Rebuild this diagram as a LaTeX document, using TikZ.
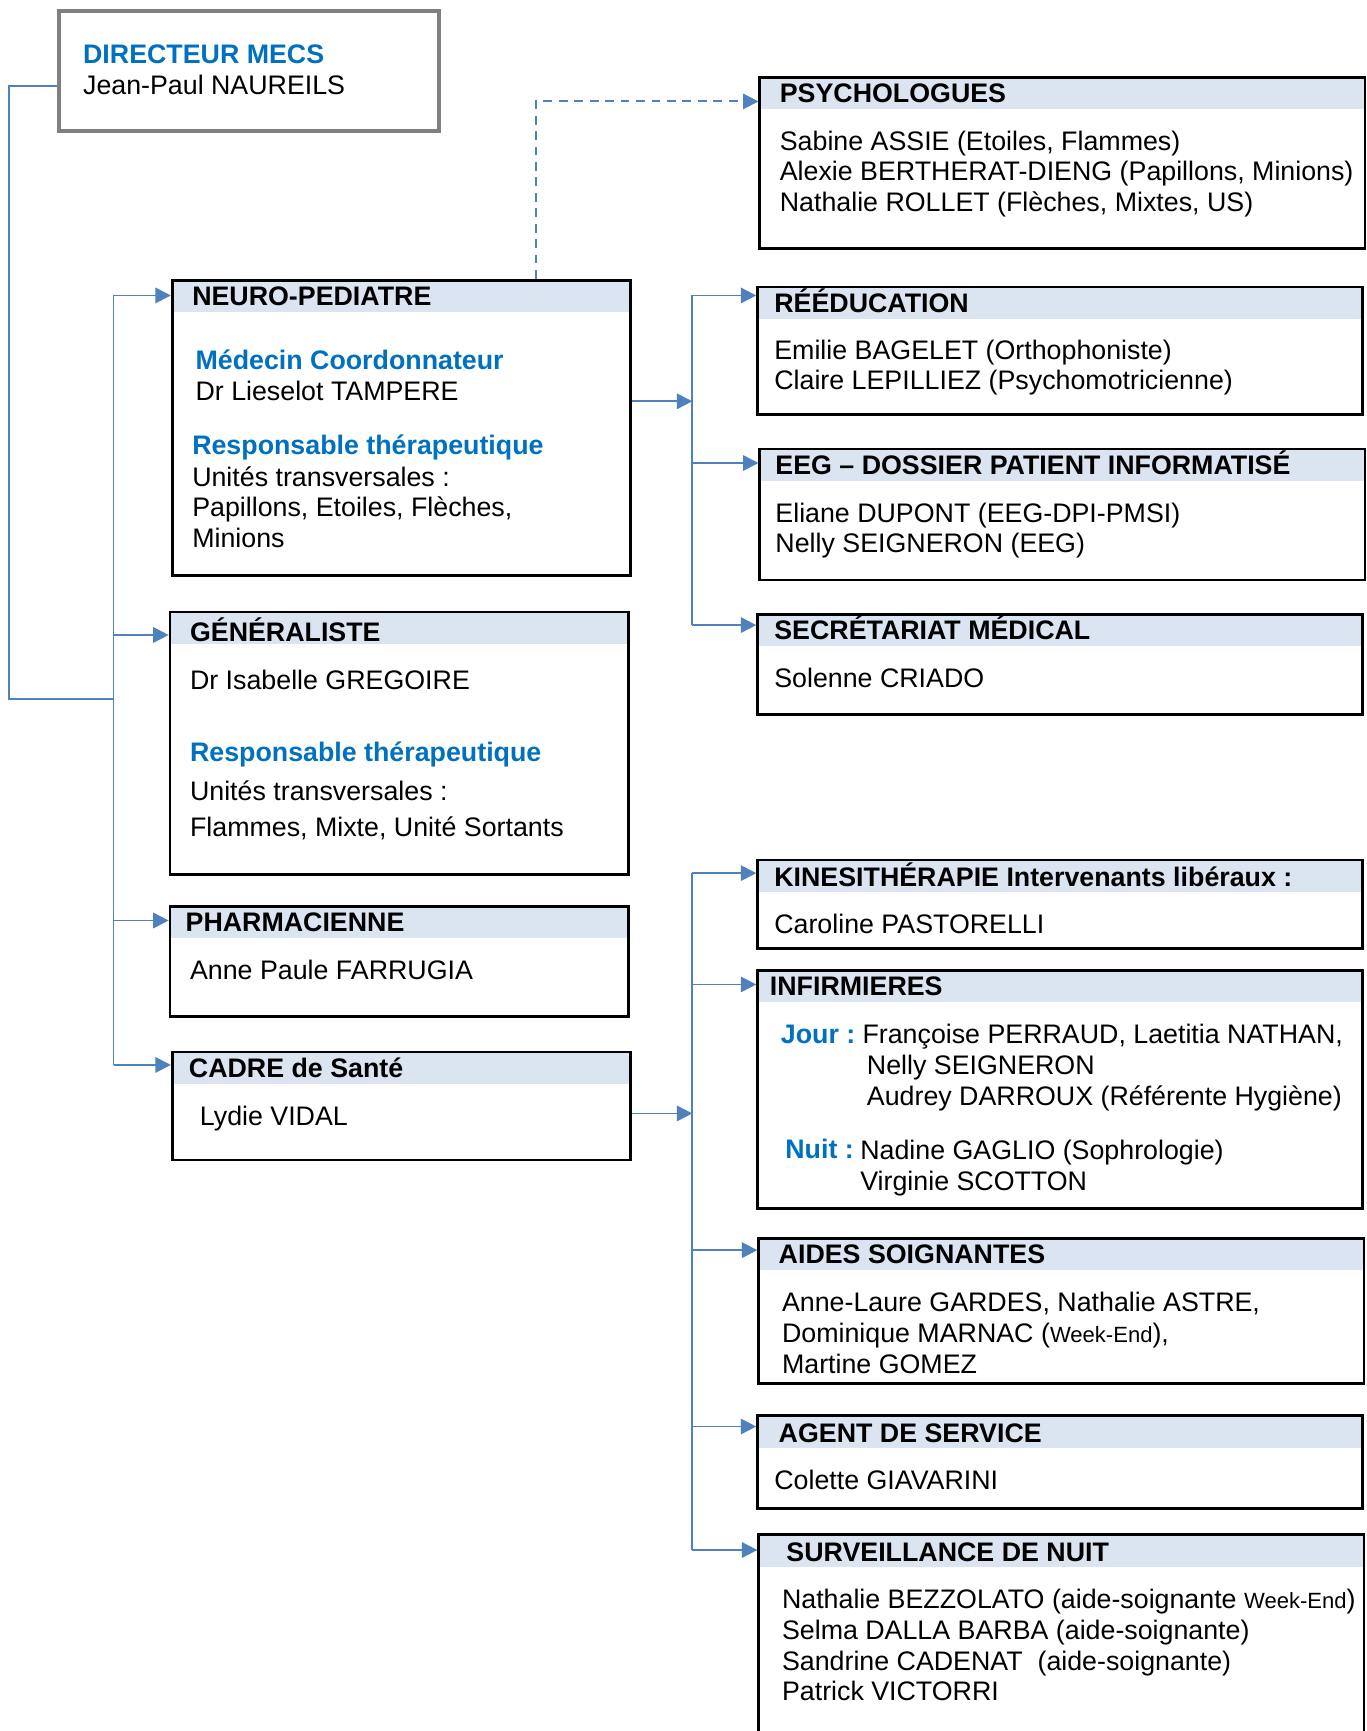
\documentclass[tikz,border=0pt]{standalone}
\usepackage{fontspec}
\setmainfont{Liberation Sans}
\usetikzlibrary{arrows.meta}
\definecolor{hdr}{HTML}{DBE5F1}
\definecolor{conn}{HTML}{4F81BD}
\definecolor{ttlblue}{HTML}{0070C0}
\definecolor{dirg}{HTML}{808080}
\tikzset{
 box/.style={draw=black, line width=1.2pt, anchor=north west, inner sep=0pt,
   path picture={\fill[hdr] ([yshift=-0.6pt]path picture bounding box.north west) rectangle ([yshift=-14.5pt]path picture bounding box.north east);}},
 dirbox/.style={draw=dirg, line width=1.8pt, anchor=north west, inner sep=0pt},
 txt/.style={anchor=base west, inner sep=0pt, yshift=-0.75pt, font=\fontsize{12.15}{14}\selectfont},
 ttl/.style={anchor=base west, inner sep=0pt, yshift=-0.6pt, font=\fontsize{12.15}{14}\selectfont\bfseries},
 bluettl/.style={ttl, text=ttlblue},
 link/.style={draw=conn, line width=0.85pt},
 arr/.style={link, -{Triangle[length=7pt,width=7pt]}},
}
\newcommand{\wk}{{\fontsize{10}{12}\selectfont Week-End}}
\begin{document}
\begin{tikzpicture}[x=0.5pt,y=-0.5pt]
\useasboundingbox (0,0) rectangle (1240,1570.2);

% boxes
\node[dirbox, minimum width=172pt, minimum height=54.5pt] (dir) at (52,8) {};
\node[box, minimum width=274.5pt, minimum height=77.5pt] (psy) at (688,69) {};
\node[box, minimum width=208pt, minimum height=134pt] (neuro) at (155,253) {};
\node[box, minimum width=274.5pt, minimum height=58pt] (reed) at (686,259) {};
\node[box, minimum width=274.5pt, minimum height=59.5pt] (eeg) at (688,406) {};
\node[box, minimum width=274.5pt, minimum height=45.5pt] (sec) at (686,556) {};
\node[box, minimum width=208pt, minimum height=119pt] (gen) at (153,554) {};
\node[box, minimum width=208pt, minimum height=50pt] (pharm) at (153,821) {};
\node[box, minimum width=208pt, minimum height=49pt] (cadre) at (155,953) {};
\node[box, minimum width=274.5pt, minimum height=40pt] (kine) at (686,779) {};
\node[box, minimum width=274.5pt, minimum height=108pt] (inf) at (686,879) {};
\node[box, minimum width=274.5pt, minimum height=66pt] (aides) at (687,1122) {};
\node[box, minimum width=274.5pt, minimum height=42pt] (agent) at (686,1283) {};
\node[box, minimum width=274.5pt, minimum height=100pt] (surv) at (687,1391) {};

% texts
\node[bluettl] (dirT) at (75,56) {DIRECTEUR MECS};
\node[txt] (dirN) at (75,84) {Jean-Paul NAUREILS};

\node[ttl] (psyT) at (707,92) {PSYCHOLOGUES};
\node[txt] (psy1) at (707,135) {Sabine ASSIE (Etoiles, Flammes)};
\node[txt] (psy2) at (707,162) {Alexie BERTHERAT-DIENG (Papillons, Minions)};
\node[txt] (psy3) at (707,190) {Nathalie ROLLET (Flèches, Mixtes, US)};

\node[ttl] (neuroT) at (174,276) {NEURO-PEDIATRE};
\node[bluettl] (neuro1) at (177,334) {Médecin Coordonnateur};
\node[txt] (neuro2) at (177,362) {Dr Lieselot TAMPERE};
\node[bluettl] (neuro3) at (174,411) {Responsable thérapeutique};
\node[txt] (neuro4) at (174,440) {Unités transversales :};
\node[txt] (neuro5) at (174,467) {Papillons, Etoiles, Flèches,};
\node[txt] (neuro6) at (174,495) {Minions};

\node[ttl] (reedT) at (702,282) {RÉÉDUCATION};
\node[txt] (reed1) at (702,325) {Emilie BAGELET (Orthophoniste)};
\node[txt] (reed2) at (702,352) {Claire LEPILLIEZ (Psychomotricienne)};

\node[ttl] (eegT) at (703,429) {EEG – DOSSIER PATIENT INFORMATISÉ};
\node[txt] (eeg1) at (703,472) {Eliane DUPONT (EEG-DPI-PMSI)};
\node[txt] (eeg2) at (703,500) {Nelly SEIGNERON (EEG)};

\node[ttl] (secT) at (702,579) {SECRÉTARIAT MÉDICAL};
\node[txt] (sec1) at (702,622) {Solenne CRIADO};

\node[ttl] (genT) at (172,581) {GÉNÉRALISTE};
\node[txt] (gen1) at (172,624) {Dr Isabelle GREGOIRE};
\node[bluettl] (gen2) at (172,690) {Responsable thérapeutique};
\node[txt] (gen3) at (172,725) {Unités transversales :};
\node[txt] (gen4) at (172,757) {Flammes, Mixte, Unité Sortants};

\node[ttl] (pharmT) at (168,844) {PHARMACIENNE};
\node[txt] (pharm1) at (172,887) {Anne Paule FARRUGIA};

\node[ttl] (cadreT) at (171,976) {CADRE de Santé};
\node[txt] (cadre1) at (181,1019) {Lydie VIDAL};

\node[ttl] (kineT) at (702,803) {KINESITHÉRAPIE Intervenants libéraux :};
\node[txt] (kine1) at (702,845) {Caroline PASTORELLI};

\node[ttl] (infT) at (698,902) {INFIRMIERES};
\node[bluettl] (infJ) at (708,945) {Jour :};
\node[txt] (inf1) at (782,945) {Françoise PERRAUD, Laetitia NATHAN,};
\node[txt] (inf2) at (786,973) {Nelly SEIGNERON};
\node[txt] (inf3) at (786,1001) {Audrey DARROUX (Référente Hygiène)};
\node[bluettl] (infN) at (712,1050) {Nuit :};
\node[txt] (inf4) at (780,1050) {Nadine GAGLIO (Sophrologie)};
\node[txt] (inf5) at (780,1078) {Virginie SCOTTON};

\node[ttl] (aidesT) at (706,1145) {AIDES SOIGNANTES};
\node[txt] (aides1) at (709,1188) {Anne-Laure GARDES, Nathalie ASTRE,};
\node[txt] (aides2) at (709,1216) {Dominique MARNAC (\wk),};
\node[txt] (aides3) at (709,1244) {Martine GOMEZ};

\node[ttl] (agentT) at (706,1307) {AGENT DE SERVICE};
\node[txt] (agent1) at (702,1350) {Colette GIAVARINI};

\node[ttl] (survT) at (713,1415) {SURVEILLANCE DE NUIT};
\node[txt] (surv1) at (709,1458) {Nathalie BEZZOLATO (aide-soignante \wk)};
\node[txt] (surv2) at (709,1486) {Selma DALLA BARBA (aide-soignante)};
\node[txt] (surv3) at (709,1514) {Sandrine CADENAT~ (aide-soignante)};
\node[txt] (surv4) at (709,1541) {Patrick VICTORRI};

% connector points
\coordinate (d0) at (8,78);
\coordinate (dj) at (103,634);
\coordinate (l1) at (103,268);
\coordinate (l2) at (103,576);
\coordinate (l3) at (103,835);
\coordinate (l4) at (103,966);
\coordinate (r1) at (628,268);
\coordinate (r2) at (628,420);
\coordinate (r3) at (628,567);
\coordinate (rin) at (628,364);
\coordinate (s1) at (628,792);
\coordinate (s2) at (628,893);
\coordinate (s3) at (628,1134);
\coordinate (s4) at (628,1294);
\coordinate (s5) at (628,1406);
\coordinate (sin) at (628,1010);
\coordinate (dk) at (486,92);

% director to left bus
\draw[link] (dir.west |- d0) -- (d0) |- (dj);
\draw[link] (l1) -- (l4);
\draw[arr] (l1) -- (neuro.west |- l1);
\draw[arr] (l2) -- (gen.west |- l2);
\draw[arr] (l3) -- (pharm.west |- l3);
\draw[arr] (l4) -- (cadre.west |- l4);

% dashed to psychologues
\draw[arr, dash pattern=on 4pt off 3pt] (neuro.north -| dk) -- (dk) -- (psy.west |- dk);

% upper right bus
\draw[arr] (neuro.east |- rin) -- (rin);
\draw[link] (r1) -- (r3);
\draw[arr] (r1) -- (reed.west |- r1);
\draw[arr] (r2) -- (eeg.west |- r2);
\draw[arr] (r3) -- (sec.west |- r3);

% lower right bus
\draw[arr] (cadre.east |- sin) -- (sin);
\draw[link] (s1) -- (s5);
\draw[arr] (s1) -- (kine.west |- s1);
\draw[arr] (s2) -- (inf.west |- s2);
\draw[arr] (s3) -- (aides.west |- s3);
\draw[arr] (s4) -- (agent.west |- s4);
\draw[arr] (s5) -- (surv.west |- s5);
\end{tikzpicture}
\end{document}
